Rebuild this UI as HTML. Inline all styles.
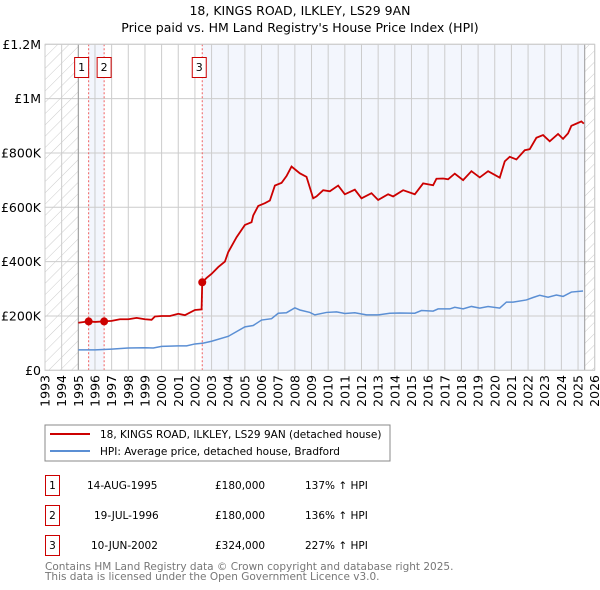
<!DOCTYPE html>
<html><head><meta charset="utf-8"><style>
body{margin:0;background:#fff;font-family:"DejaVu Sans","Liberation Sans",sans-serif;}
svg{display:block}
</style></head><body>
<svg id="c" width="600" height="590" xmlns="http://www.w3.org/2000/svg" font-family="DejaVu Sans, Liberation Sans, sans-serif">
<defs><pattern id="hatch" width="8" height="8" patternUnits="userSpaceOnUse" patternTransform="rotate(45)"><line x1="0" y1="0" x2="0" y2="8" stroke="#ccc" stroke-width="1"/></pattern></defs>
<text x="300" y="15" text-anchor="middle" font-size="12.5">18, KINGS ROAD, ILKLEY, LS29 9AN</text>
<text x="300" y="32" text-anchor="middle" font-size="12.5">Price paid vs. HM Land Registry's House Price Index (HPI)</text>
<g id="plot"></g>
<rect x="45" y="425" width="345" height="36" fill="#fff" stroke="#888"/>
<line x1="50" y1="434" x2="90" y2="434" stroke="#cc0000" stroke-width="2"/>
<text x="100" y="438" font-size="10.5">18, KINGS ROAD, ILKLEY, LS29 9AN (detached house)</text>
<line x1="50" y1="451" x2="90" y2="451" stroke="#5b8fd4" stroke-width="2"/>
<text x="100" y="455" font-size="10.5">HPI: Average price, detached house, Bradford</text>
<g font-size="10.5">
<rect x="45.5" y="475.5" width="14" height="20" fill="#fff" stroke="#cc0000"/><text x="52.5" y="489" text-anchor="middle">1</text>
<text x="87" y="489">14-AUG-1995</text><text x="215" y="489">£180,000</text><text x="305" y="489">137% ↑ HPI</text>
<rect x="45.5" y="505.5" width="14" height="20" fill="#fff" stroke="#cc0000"/><text x="52.5" y="519" text-anchor="middle">2</text>
<text x="94" y="519">19-JUL-1996</text><text x="215" y="519">£180,000</text><text x="305" y="519">136% ↑ HPI</text>
<rect x="45.5" y="535.5" width="14" height="20" fill="#fff" stroke="#cc0000"/><text x="52.5" y="549" text-anchor="middle">3</text>
<text x="91" y="549">10-JUN-2002</text><text x="215" y="549">£324,000</text><text x="305" y="549">227% ↑ HPI</text>
</g>
<text x="45" y="570" font-size="10.5" fill="#777">Contains HM Land Registry data © Crown copyright and database right 2025.</text>
<text x="45" y="580" font-size="10.5" fill="#777">This data is licensed under the Open Government Licence v3.0.</text>
</svg>
<script>
const yTicks=[0,200,400,600,800,1000,1200];
const yTickLabels=["£0","£200K","£400K","£600K","£800K","£1M","£1.2M"];
const years=[1993,1994,1995,1996,1997,1998,1999,2000,2001,2002,2003,2004,2005,2006,2007,2008,2009,2010,2011,2012,2013,2014,2015,2016,2017,2018,2019,2020,2021,2022,2023,2024,2025,2026];
const saleDates=[1995.62,1996.55,2002.44];
const salePrices=[180,180,324];
const saleLabels=["1","2","3"];
const redX=[1995.0,1995.62,1996.0,1996.55,1997.0,1997.5,1998.0,1998.5,1999.0,1999.4,1999.6,2000.0,2000.5,2001.0,2001.4,2002.0,2002.4,2002.44,2002.7,2003.0,2003.4,2003.8,2004.0,2004.5,2005.0,2005.4,2005.5,2005.8,2006.2,2006.5,2006.8,2007.2,2007.5,2007.8,2008.1,2008.3,2008.7,2009.1,2009.3,2009.7,2010.1,2010.6,2011.0,2011.6,2012.0,2012.6,2013.0,2013.6,2013.9,2014.5,2015.2,2015.7,2016.3,2016.5,2016.9,2017.2,2017.6,2018.1,2018.6,2019.1,2019.6,2020.3,2020.6,2020.9,2021.3,2021.8,2022.1,2022.5,2022.9,2023.3,2023.8,2024.1,2024.4,2024.6,2024.9,2025.2,2025.35];
const redY=[175,180,178,180,182,188,188,193,188,186,198,200,200,208,203,222,224,324,340,355,380,400,435,490,535,545,570,605,615,625,680,690,715,750,735,725,712,633,640,663,659,680,648,665,633,652,627,648,640,663,648,688,681,705,706,703,724,700,733,710,733,709,769,786,776,810,814,856,866,843,870,852,872,900,908,916,908];
const blueX=[1995.0,1996.0,1997.0,1998.0,1999.0,1999.5,2000.0,2001.0,2001.5,2002.0,2002.5,2003.0,2004.0,2005.0,2005.5,2006.0,2006.6,2007.0,2007.5,2008.0,2008.3,2008.9,2009.2,2009.9,2010.5,2011.0,2011.6,2012.3,2013.0,2013.7,2014.3,2015.2,2015.6,2016.3,2016.6,2017.3,2017.6,2018.1,2018.6,2019.1,2019.6,2020.3,2020.7,2021.1,2021.9,2022.3,2022.7,2023.2,2023.7,2024.1,2024.6,2025.3];
const blueY=[75,75,78,82,83,82,88,90,90,97,100,107,125,160,165,185,190,210,212,230,222,213,204,213,215,209,212,204,204,210,211,210,220,218,226,226,232,226,235,229,235,229,251,251,259,268,276,269,277,272,288,292];

const L=45,R=594.7,T=44.3,B=370.3;
const xs=y=>L+(y-1993)/(2026-1993)*(R-L);
const ys=v=>B-v/1200*(B-T);
const NS="http://www.w3.org/2000/svg";
const g=document.getElementById('plot');
function mk(t,a,p){const e=document.createElementNS(NS,t);for(const k in a)e.setAttribute(k,a[k]);(p||g).appendChild(e);return e;}
const dataEnd=2025.4;
let e;
e=mk('rect',{x:L,y:T,width:R-L,height:B-T,fill:'#fff'});


e=mk('rect',{x:xs(saleDates[0]),y:T,width:xs(saleDates[1])-xs(saleDates[0]),height:B-T,fill:'#f3f6fd'});


e=mk('rect',{x:xs(saleDates[2]),y:T,width:xs(dataEnd)-xs(saleDates[2]),height:B-T,fill:'#f3f6fd'});


e=mk('rect',{x:L,y:T,width:xs(1995)-L,height:B-T,fill:'url(#hatch)'});


e=mk('rect',{x:xs(dataEnd),y:T,width:R-xs(dataEnd),height:B-T,fill:'url(#hatch)'});


years.forEach(y=>{
 e=mk('line',{x1:xs(y),x2:xs(y),y1:T,y2:B,stroke:'#ccc','stroke-width':1});
 
 
 e=mk('text',{x:0,y:0,'font-size':12.5,'text-anchor':'end',transform:`translate(${xs(y)+4.5},375) rotate(-90)`});
 e.textContent=y;
 
 
});
yTicks.forEach((v,i)=>{
 e=mk('line',{x1:L,x2:R,y1:ys(v),y2:ys(v),stroke:'#ccc','stroke-width':1});
 
 
 e=mk('text',{x:41,y:ys(v)+4.5,'font-size':12.5,'text-anchor':'end'});
 e.textContent=yTickLabels[i];
 
 
});
e=mk('line',{x1:xs(1995),x2:xs(1995),y1:T,y2:B,stroke:'#999'});


e=mk('line',{x1:xs(dataEnd),x2:xs(dataEnd),y1:T,y2:B,stroke:'#999'});


saleDates.forEach((d,i)=>{
 e=mk('line',{x1:xs(d),x2:xs(d),y1:T,y2:B,stroke:'#f06060','stroke-dasharray':'2,2'});
 
 
});
e=mk('polyline',{points:blueX.map((x,i)=>xs(x)+','+ys(blueY[i])).join(' '),fill:'none',stroke:'#5b8fd4','stroke-width':1.5});


e=mk('polyline',{points:redX.map((x,i)=>xs(x)+','+ys(redY[i])).join(' '),fill:'none',stroke:'#cc0000','stroke-width':1.8});


saleDates.forEach((d,i)=>{
 e=mk('circle',{cx:xs(d),cy:ys(salePrices[i]),r:4,fill:'#cc0000'});
 
 
 const bx=i==0?xs(d)-14:i==1?xs(d)-7:xs(d)-10;
 e=mk('rect',{x:bx,y:57.5,width:14,height:20,fill:'#fff',stroke:'#cc0000'});
 
 
 e=mk('text',{x:bx+7,y:71,'font-size':11,'text-anchor':'middle'});
 e.textContent=saleLabels[i];
 
 
});
e=mk('rect',{x:L,y:T,width:R-L,height:B-T,fill:'none',stroke:'#ccc'});


</script>
</body></html>
